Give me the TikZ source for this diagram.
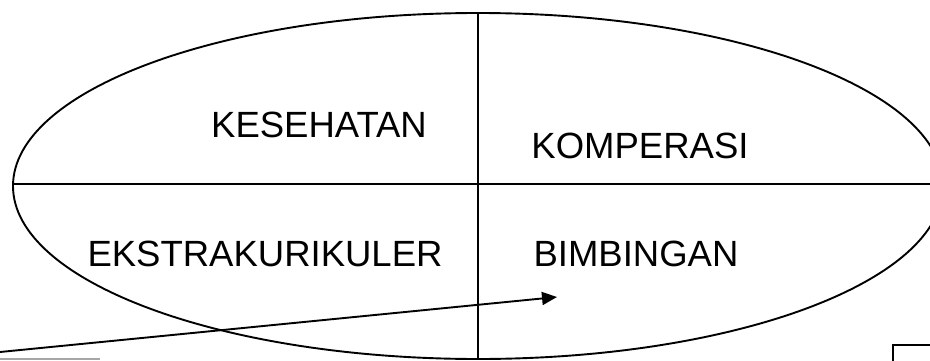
\documentclass[tikz,border=0pt]{standalone}
\usepackage{fontspec}
\setmainfont{Liberation Sans}
\usetikzlibrary{arrows.meta}
\begin{document}
\begin{tikzpicture}[x=1pt,y=1pt,line width=1.9pt,
	label/.style={inner sep=0pt,anchor=base,font=\fontsize{36.5}{40}\selectfont}]
		\useasboundingbox (0,0) rectangle (930,360);
		\clip (0,0) rectangle (930,360);
		\draw (478,174) ellipse (465pt and 173pt);
		\draw[line width=1.3pt] (478,347) -- (478,0);
		\draw[line width=1.6pt] (13,176) -- (940,176);
		\node[label] (kes) at (319,223) {KESEHATAN};
		\node[label] (kom) at (640,202) {KOMPERASI};
		\node[label] (eks) at (265,94) {EKSTRAKURIKULER};
		\node[label] (bim) at (636,94) {BIMBINGAN};
		\coordinate (src) at (0,8);
		\coordinate (tgt) at (557,63);
		\draw[-{Triangle[length=15pt,width=13pt]}] (src) -- (tgt);
		\draw[gray!70,line width=2pt] (0,1) -- (100,1);
		\draw (893,-10) -- (893,15) -- (940,15);
		\end{tikzpicture}
\end{document}
